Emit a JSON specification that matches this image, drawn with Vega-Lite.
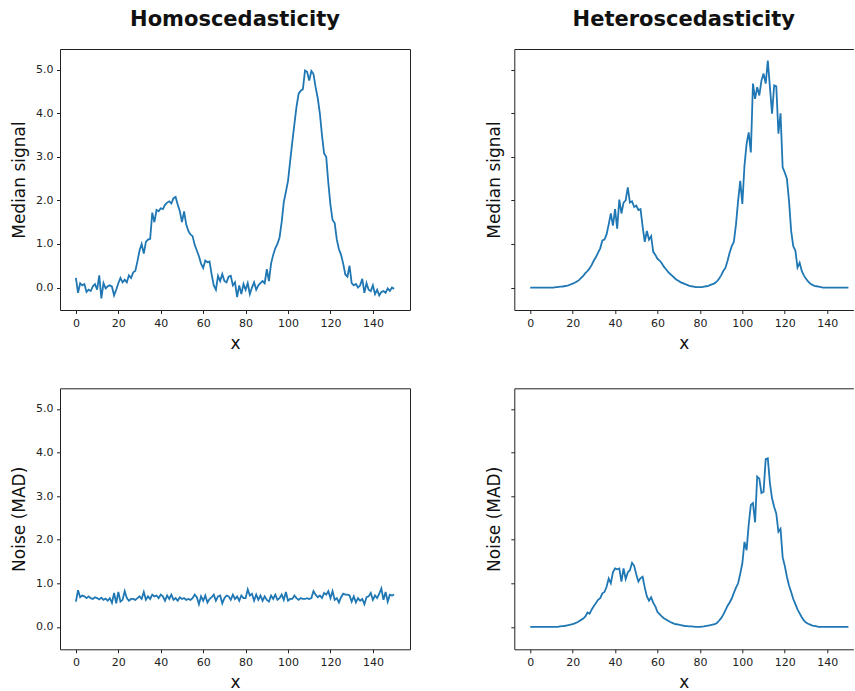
{
  "$schema": "https://vega.github.io/schema/vega-lite/v6.json",
  "autosize": {"type": "pad"},
  "padding": {"left": 10, "top": 9, "right": 0, "bottom": 0},
  "background": "white",
  "config": {
    "font": "DejaVu Sans",
    "view": {"stroke": null},
    "axis": {
      "grid": false,
      "domainColor": "#222",
      "domainWidth": 1,
      "tickColor": "#222",
      "tickWidth": 1,
      "tickSize": 3.5,
      "labelColor": "#222",
      "labelFont": "DejaVu Sans",
      "labelFontSize": 11,
      "labelPadding": 3.5,
      "titleFont": "DejaVu Sans",
      "titleFontSize": 17,
      "titleFontWeight": "normal",
      "titleColor": "#111",
      "titlePadding": 7
    },
    "title": {"font": "DejaVu Sans", "fontSize": 21, "fontWeight": "bold", "color": "#111", "anchor": "middle", "frame": "group", "baseline": "alphabetic", "offset": 19}
  },
  "data": {"values": [
    {"x":0,"homo_sig":0.22,"hetero_sig":0,"homo_mad":0.58,"hetero_mad":0},
    {"x":1,"homo_sig":-0.12,"hetero_sig":0,"homo_mad":0.84,"hetero_mad":0},
    {"x":2,"homo_sig":0.10,"hetero_sig":0,"homo_mad":0.68,"hetero_mad":0},
    {"x":3,"homo_sig":0.05,"hetero_sig":0,"homo_mad":0.72,"hetero_mad":0},
    {"x":4,"homo_sig":0.08,"hetero_sig":0,"homo_mad":0.70,"hetero_mad":0},
    {"x":5,"homo_sig":-0.10,"hetero_sig":0,"homo_mad":0.66,"hetero_mad":0},
    {"x":6,"homo_sig":-0.05,"hetero_sig":0,"homo_mad":0.70,"hetero_mad":0},
    {"x":7,"homo_sig":-0.08,"hetero_sig":0,"homo_mad":0.66,"hetero_mad":0},
    {"x":8,"homo_sig":0.03,"hetero_sig":0,"homo_mad":0.64,"hetero_mad":0},
    {"x":9,"homo_sig":0.08,"hetero_sig":0,"homo_mad":0.68,"hetero_mad":0},
    {"x":10,"homo_sig":-0.05,"hetero_sig":0,"homo_mad":0.66,"hetero_mad":0},
    {"x":11,"homo_sig":0.28,"hetero_sig":0,"homo_mad":0.63,"hetero_mad":0},
    {"x":12,"homo_sig":-0.25,"hetero_sig":0.01,"homo_mad":0.67,"hetero_mad":0},
    {"x":13,"homo_sig":0.10,"hetero_sig":0.01,"homo_mad":0.62,"hetero_mad":0},
    {"x":14,"homo_sig":-0.02,"hetero_sig":0.02,"homo_mad":0.65,"hetero_mad":0.01},
    {"x":15,"homo_sig":0.03,"hetero_sig":0.02,"homo_mad":0.60,"hetero_mad":0.015},
    {"x":16,"homo_sig":0.05,"hetero_sig":0.03,"homo_mad":0.66,"hetero_mad":0.02},
    {"x":17,"homo_sig":0.02,"hetero_sig":0.04,"homo_mad":0.55,"hetero_mad":0.03},
    {"x":18,"homo_sig":-0.18,"hetero_sig":0.05,"homo_mad":0.78,"hetero_mad":0.04},
    {"x":19,"homo_sig":-0.05,"hetero_sig":0.07,"homo_mad":0.54,"hetero_mad":0.05},
    {"x":20,"homo_sig":0.10,"hetero_sig":0.09,"homo_mad":0.80,"hetero_mad":0.06},
    {"x":21,"homo_sig":0.22,"hetero_sig":0.11,"homo_mad":0.58,"hetero_mad":0.08},
    {"x":22,"homo_sig":0.12,"hetero_sig":0.14,"homo_mad":0.62,"hetero_mad":0.10},
    {"x":23,"homo_sig":0.18,"hetero_sig":0.17,"homo_mad":0.82,"hetero_mad":0.13},
    {"x":24,"homo_sig":0.12,"hetero_sig":0.22,"homo_mad":0.66,"hetero_mad":0.16},
    {"x":25,"homo_sig":0.28,"hetero_sig":0.27,"homo_mad":0.60,"hetero_mad":0.19},
    {"x":26,"homo_sig":0.22,"hetero_sig":0.33,"homo_mad":0.64,"hetero_mad":0.24},
    {"x":27,"homo_sig":0.35,"hetero_sig":0.38,"homo_mad":0.64,"hetero_mad":0.33},
    {"x":28,"homo_sig":0.38,"hetero_sig":0.44,"homo_mad":0.62,"hetero_mad":0.30},
    {"x":29,"homo_sig":0.60,"hetero_sig":0.52,"homo_mad":0.66,"hetero_mad":0.40},
    {"x":30,"homo_sig":0.85,"hetero_sig":0.62,"homo_mad":0.70,"hetero_mad":0.48},
    {"x":31,"homo_sig":1.00,"hetero_sig":0.70,"homo_mad":0.64,"hetero_mad":0.55},
    {"x":32,"homo_sig":0.78,"hetero_sig":0.80,"homo_mad":0.80,"hetero_mad":0.62},
    {"x":33,"homo_sig":1.05,"hetero_sig":0.90,"homo_mad":0.62,"hetero_mad":0.66},
    {"x":34,"homo_sig":1.10,"hetero_sig":1.08,"homo_mad":0.70,"hetero_mad":0.77},
    {"x":35,"homo_sig":1.12,"hetero_sig":1.10,"homo_mad":0.64,"hetero_mad":0.80},
    {"x":36,"homo_sig":1.72,"hetero_sig":1.22,"homo_mad":0.74,"hetero_mad":0.92},
    {"x":37,"homo_sig":1.50,"hetero_sig":1.45,"homo_mad":0.70,"hetero_mad":1.11},
    {"x":38,"homo_sig":1.78,"hetero_sig":1.70,"homo_mad":0.72,"hetero_mad":1.00},
    {"x":39,"homo_sig":1.75,"hetero_sig":1.42,"homo_mad":0.66,"hetero_mad":1.25},
    {"x":40,"homo_sig":1.82,"hetero_sig":1.80,"homo_mad":0.74,"hetero_mad":1.34},
    {"x":41,"homo_sig":1.80,"hetero_sig":1.35,"homo_mad":0.70,"hetero_mad":1.32},
    {"x":42,"homo_sig":1.90,"hetero_sig":2.02,"homo_mad":0.60,"hetero_mad":1.34},
    {"x":43,"homo_sig":1.95,"hetero_sig":1.70,"homo_mad":0.72,"hetero_mad":1.04},
    {"x":44,"homo_sig":1.98,"hetero_sig":1.95,"homo_mad":0.64,"hetero_mad":1.34},
    {"x":45,"homo_sig":1.93,"hetero_sig":2.00,"homo_mad":0.74,"hetero_mad":1.10},
    {"x":46,"homo_sig":2.05,"hetero_sig":2.30,"homo_mad":0.62,"hetero_mad":1.25},
    {"x":47,"homo_sig":2.08,"hetero_sig":1.95,"homo_mad":0.66,"hetero_mad":1.30},
    {"x":48,"homo_sig":1.90,"hetero_sig":1.98,"homo_mad":0.60,"hetero_mad":1.47},
    {"x":49,"homo_sig":1.75,"hetero_sig":1.85,"homo_mad":0.68,"hetero_mad":1.40},
    {"x":50,"homo_sig":1.50,"hetero_sig":1.88,"homo_mad":0.64,"hetero_mad":1.20},
    {"x":51,"homo_sig":1.75,"hetero_sig":1.78,"homo_mad":0.66,"hetero_mad":1.04},
    {"x":52,"homo_sig":1.45,"hetero_sig":1.80,"homo_mad":0.62,"hetero_mad":1.12},
    {"x":53,"homo_sig":1.30,"hetero_sig":1.40,"homo_mad":0.64,"hetero_mad":1.15},
    {"x":54,"homo_sig":1.22,"hetero_sig":1.05,"homo_mad":0.62,"hetero_mad":0.90},
    {"x":55,"homo_sig":1.18,"hetero_sig":1.30,"homo_mad":0.66,"hetero_mad":0.70},
    {"x":56,"homo_sig":0.98,"hetero_sig":1.10,"homo_mad":0.74,"hetero_mad":0.60},
    {"x":57,"homo_sig":0.85,"hetero_sig":1.18,"homo_mad":0.68,"hetero_mad":0.68},
    {"x":58,"homo_sig":0.72,"hetero_sig":0.82,"homo_mad":0.52,"hetero_mad":0.55},
    {"x":59,"homo_sig":0.55,"hetero_sig":0.75,"homo_mad":0.70,"hetero_mad":0.47},
    {"x":60,"homo_sig":0.45,"hetero_sig":0.66,"homo_mad":0.60,"hetero_mad":0.34},
    {"x":61,"homo_sig":0.62,"hetero_sig":0.62,"homo_mad":0.72,"hetero_mad":0.29},
    {"x":62,"homo_sig":0.58,"hetero_sig":0.56,"homo_mad":0.56,"hetero_mad":0.24},
    {"x":63,"homo_sig":0.60,"hetero_sig":0.48,"homo_mad":0.64,"hetero_mad":0.20},
    {"x":64,"homo_sig":0.30,"hetero_sig":0.42,"homo_mad":0.68,"hetero_mad":0.17},
    {"x":65,"homo_sig":0.05,"hetero_sig":0.36,"homo_mad":0.74,"hetero_mad":0.14},
    {"x":66,"homo_sig":-0.05,"hetero_sig":0.31,"homo_mad":0.60,"hetero_mad":0.11},
    {"x":67,"homo_sig":0.27,"hetero_sig":0.27,"homo_mad":0.70,"hetero_mad":0.09},
    {"x":68,"homo_sig":0.15,"hetero_sig":0.22,"homo_mad":0.72,"hetero_mad":0.07},
    {"x":69,"homo_sig":0.31,"hetero_sig":0.18,"homo_mad":0.54,"hetero_mad":0.06},
    {"x":70,"homo_sig":0.15,"hetero_sig":0.15,"homo_mad":0.66,"hetero_mad":0.05},
    {"x":71,"homo_sig":0.12,"hetero_sig":0.12,"homo_mad":0.72,"hetero_mad":0.04},
    {"x":72,"homo_sig":0.25,"hetero_sig":0.10,"homo_mad":0.70,"hetero_mad":0.03},
    {"x":73,"homo_sig":0.27,"hetero_sig":0.08,"homo_mad":0.62,"hetero_mad":0.02},
    {"x":74,"homo_sig":0.05,"hetero_sig":0.06,"homo_mad":0.74,"hetero_mad":0.015},
    {"x":75,"homo_sig":0.12,"hetero_sig":0.04,"homo_mad":0.64,"hetero_mad":0.01},
    {"x":76,"homo_sig":-0.22,"hetero_sig":0.03,"homo_mad":0.70,"hetero_mad":0.01},
    {"x":77,"homo_sig":0.05,"hetero_sig":0.02,"homo_mad":0.60,"hetero_mad":0.005},
    {"x":78,"homo_sig":-0.15,"hetero_sig":0.01,"homo_mad":0.72,"hetero_mad":0},
    {"x":79,"homo_sig":0.08,"hetero_sig":0.01,"homo_mad":0.66,"hetero_mad":0},
    {"x":80,"homo_sig":-0.05,"hetero_sig":0.01,"homo_mad":0.66,"hetero_mad":0},
    {"x":81,"homo_sig":0.10,"hetero_sig":0.01,"homo_mad":0.86,"hetero_mad":0.005},
    {"x":82,"homo_sig":-0.15,"hetero_sig":0.02,"homo_mad":0.72,"hetero_mad":0.01},
    {"x":83,"homo_sig":0.00,"hetero_sig":0.03,"homo_mad":0.76,"hetero_mad":0.02},
    {"x":84,"homo_sig":0.12,"hetero_sig":0.04,"homo_mad":0.60,"hetero_mad":0.03},
    {"x":85,"homo_sig":-0.05,"hetero_sig":0.06,"homo_mad":0.74,"hetero_mad":0.04},
    {"x":86,"homo_sig":0.05,"hetero_sig":0.08,"homo_mad":0.62,"hetero_mad":0.05},
    {"x":87,"homo_sig":0.10,"hetero_sig":0.10,"homo_mad":0.72,"hetero_mad":0.06},
    {"x":88,"homo_sig":0.15,"hetero_sig":0.14,"homo_mad":0.60,"hetero_mad":0.09},
    {"x":89,"homo_sig":0.10,"hetero_sig":0.20,"homo_mad":0.70,"hetero_mad":0.14},
    {"x":90,"homo_sig":0.42,"hetero_sig":0.28,"homo_mad":0.62,"hetero_mad":0.20},
    {"x":91,"homo_sig":0.15,"hetero_sig":0.38,"homo_mad":0.58,"hetero_mad":0.28},
    {"x":92,"homo_sig":0.55,"hetero_sig":0.45,"homo_mad":0.72,"hetero_mad":0.38},
    {"x":93,"homo_sig":0.75,"hetero_sig":0.61,"homo_mad":0.64,"hetero_mad":0.48},
    {"x":94,"homo_sig":0.90,"hetero_sig":0.80,"homo_mad":0.74,"hetero_mad":0.56},
    {"x":95,"homo_sig":1.00,"hetero_sig":0.95,"homo_mad":0.62,"hetero_mad":0.65},
    {"x":96,"homo_sig":1.15,"hetero_sig":1.05,"homo_mad":0.66,"hetero_mad":0.78},
    {"x":97,"homo_sig":1.50,"hetero_sig":1.45,"homo_mad":0.74,"hetero_mad":0.90},
    {"x":98,"homo_sig":1.96,"hetero_sig":1.99,"homo_mad":0.62,"hetero_mad":1.00},
    {"x":99,"homo_sig":2.20,"hetero_sig":2.45,"homo_mad":0.80,"hetero_mad":1.22},
    {"x":100,"homo_sig":2.45,"hetero_sig":1.92,"homo_mad":0.60,"hetero_mad":1.46},
    {"x":101,"homo_sig":2.90,"hetero_sig":2.80,"homo_mad":0.64,"hetero_mad":1.95},
    {"x":102,"homo_sig":3.34,"hetero_sig":3.30,"homo_mad":0.64,"hetero_mad":1.76},
    {"x":103,"homo_sig":3.75,"hetero_sig":3.56,"homo_mad":0.72,"hetero_mad":2.35},
    {"x":104,"homo_sig":4.15,"hetero_sig":3.10,"homo_mad":0.66,"hetero_mad":2.80},
    {"x":105,"homo_sig":4.45,"hetero_sig":4.68,"homo_mad":0.62,"hetero_mad":2.84},
    {"x":106,"homo_sig":4.52,"hetero_sig":4.33,"homo_mad":0.66,"hetero_mad":2.40},
    {"x":107,"homo_sig":4.55,"hetero_sig":4.60,"homo_mad":0.64,"hetero_mad":3.45},
    {"x":108,"homo_sig":4.98,"hetero_sig":4.41,"homo_mad":0.64,"hetero_mad":3.40},
    {"x":109,"homo_sig":4.95,"hetero_sig":4.75,"homo_mad":0.66,"hetero_mad":3.07},
    {"x":110,"homo_sig":4.75,"hetero_sig":4.91,"homo_mad":0.64,"hetero_mad":3.10},
    {"x":111,"homo_sig":4.97,"hetero_sig":4.68,"homo_mad":0.66,"hetero_mad":3.85},
    {"x":112,"homo_sig":4.90,"hetero_sig":5.21,"homo_mad":0.82,"hetero_mad":3.87},
    {"x":113,"homo_sig":4.60,"hetero_sig":4.60,"homo_mad":0.74,"hetero_mad":3.30},
    {"x":114,"homo_sig":4.35,"hetero_sig":3.99,"homo_mad":0.68,"hetero_mad":2.95},
    {"x":115,"homo_sig":4.00,"hetero_sig":4.64,"homo_mad":0.72,"hetero_mad":2.75},
    {"x":116,"homo_sig":3.50,"hetero_sig":4.62,"homo_mad":0.66,"hetero_mad":2.60},
    {"x":117,"homo_sig":3.08,"hetero_sig":3.53,"homo_mad":0.78,"hetero_mad":2.18},
    {"x":118,"homo_sig":3.00,"hetero_sig":4.00,"homo_mad":0.74,"hetero_mad":2.25},
    {"x":119,"homo_sig":2.40,"hetero_sig":2.76,"homo_mad":0.82,"hetero_mad":1.60},
    {"x":120,"homo_sig":1.90,"hetero_sig":2.64,"homo_mad":0.66,"hetero_mad":1.40},
    {"x":121,"homo_sig":1.55,"hetero_sig":2.50,"homo_mad":0.82,"hetero_mad":1.15},
    {"x":122,"homo_sig":1.48,"hetero_sig":1.99,"homo_mad":0.62,"hetero_mad":0.95},
    {"x":123,"homo_sig":1.10,"hetero_sig":1.30,"homo_mad":0.66,"hetero_mad":0.80},
    {"x":124,"homo_sig":0.88,"hetero_sig":0.95,"homo_mad":0.56,"hetero_mad":0.64},
    {"x":125,"homo_sig":0.75,"hetero_sig":0.85,"homo_mad":0.68,"hetero_mad":0.52},
    {"x":126,"homo_sig":0.55,"hetero_sig":0.46,"homo_mad":0.76,"hetero_mad":0.40},
    {"x":127,"homo_sig":0.30,"hetero_sig":0.57,"homo_mad":0.74,"hetero_mad":0.31},
    {"x":128,"homo_sig":0.25,"hetero_sig":0.38,"homo_mad":0.74,"hetero_mad":0.22},
    {"x":129,"homo_sig":0.50,"hetero_sig":0.28,"homo_mad":0.72,"hetero_mad":0.15},
    {"x":130,"homo_sig":0.10,"hetero_sig":0.20,"homo_mad":0.58,"hetero_mad":0.10},
    {"x":131,"homo_sig":0.05,"hetero_sig":0.14,"homo_mad":0.70,"hetero_mad":0.07},
    {"x":132,"homo_sig":0.08,"hetero_sig":0.09,"homo_mad":0.56,"hetero_mad":0.05},
    {"x":133,"homo_sig":0.00,"hetero_sig":0.06,"homo_mad":0.66,"hetero_mad":0.03},
    {"x":134,"homo_sig":0.05,"hetero_sig":0.04,"homo_mad":0.60,"hetero_mad":0.02},
    {"x":135,"homo_sig":0.20,"hetero_sig":0.03,"homo_mad":0.64,"hetero_mad":0.01},
    {"x":136,"homo_sig":-0.12,"hetero_sig":0.02,"homo_mad":0.52,"hetero_mad":0},
    {"x":137,"homo_sig":0.10,"hetero_sig":0.01,"homo_mad":0.68,"hetero_mad":0},
    {"x":138,"homo_sig":-0.05,"hetero_sig":0,"homo_mad":0.70,"hetero_mad":0},
    {"x":139,"homo_sig":-0.08,"hetero_sig":0,"homo_mad":0.78,"hetero_mad":0},
    {"x":140,"homo_sig":0.05,"hetero_sig":0,"homo_mad":0.62,"hetero_mad":0},
    {"x":141,"homo_sig":-0.15,"hetero_sig":0,"homo_mad":0.72,"hetero_mad":0},
    {"x":142,"homo_sig":-0.05,"hetero_sig":0,"homo_mad":0.66,"hetero_mad":0},
    {"x":143,"homo_sig":-0.18,"hetero_sig":0,"homo_mad":0.76,"hetero_mad":0},
    {"x":144,"homo_sig":-0.10,"hetero_sig":0,"homo_mad":0.88,"hetero_mad":0},
    {"x":145,"homo_sig":-0.08,"hetero_sig":0,"homo_mad":0.62,"hetero_mad":0},
    {"x":146,"homo_sig":-0.12,"hetero_sig":0,"homo_mad":0.80,"hetero_mad":0},
    {"x":147,"homo_sig":-0.02,"hetero_sig":0,"homo_mad":0.58,"hetero_mad":0},
    {"x":148,"homo_sig":-0.08,"hetero_sig":0,"homo_mad":0.74,"hetero_mad":0},
    {"x":149,"homo_sig":0.00,"hetero_sig":0,"homo_mad":0.72,"hetero_mad":0},
    {"x":150,"homo_sig":-0.03,"hetero_sig":0,"homo_mad":0.74,"hetero_mad":0}
  ]},
  "columns": 2,
  "align": "each",
  "bounds": "flush",
  "spacing": {"column": 104.3, "row": 78.3},
  "concat": [
    {
      "width": 350, "height": 261,
      "title": {"text": "Homoscedasticity"},
      "layer": [
        {"mark": {"type": "line", "color": "#1f77b4", "strokeWidth": 1.8},
         "encoding": {
           "x": {"field": "x", "type": "quantitative", "scale": {"domain": [-7.5, 157.5], "nice": false, "zero": false}, "axis": {"orient": "bottom", "values": [0, 20, 40, 60, 80, 100, 120, 140], "title": "x"}},
           "y": {"field": "homo_sig", "type": "quantitative", "scale": {"domain": [-0.515, 5.475], "nice": false, "zero": false}, "axis": {"orient": "left", "values": [0, 1, 2, 3, 4, 5], "format": ".1f", "title": "Median signal"}}
         }},
        {"mark": {"type": "line", "opacity": 0},
         "encoding": {
           "x": {"field": "x", "type": "quantitative", "axis": {"orient": "top", "labels": false, "ticks": false, "title": null}},
           "y": {"field": "homo_sig", "type": "quantitative", "axis": {"orient": "right", "labels": false, "ticks": false, "title": null}}
         }}
      ],
      "resolve": {"axis": {"x": "independent", "y": "independent"}}
    },
    {
      "width": 339, "height": 261,
      "title": {"text": "Heteroscedasticity"},
      "layer": [
        {"mark": {"type": "line", "color": "#1f77b4", "strokeWidth": 1.8},
         "encoding": {
           "x": {"field": "x", "type": "quantitative", "scale": {"domain": [-7.5, 152.3], "nice": false, "zero": false}, "axis": {"orient": "bottom", "values": [0, 20, 40, 60, 80, 100, 120, 140], "title": "x"}},
           "y": {"field": "hetero_sig", "type": "quantitative", "scale": {"domain": [-0.515, 5.475], "nice": false, "zero": false}, "axis": {"orient": "left", "values": [0, 1, 2, 3, 4, 5], "labels": false, "title": "Median signal"}}
         }},
        {"mark": {"type": "line", "opacity": 0},
         "encoding": {
           "x": {"field": "x", "type": "quantitative", "axis": {"orient": "top", "labels": false, "ticks": false, "title": null}},
           "y": {"field": "hetero_sig", "type": "quantitative", "axis": null}
         }}
      ],
      "resolve": {"axis": {"x": "independent", "y": "independent"}}
    },
    {
      "width": 350, "height": 261,
      "layer": [
        {"mark": {"type": "line", "color": "#1f77b4", "strokeWidth": 1.8},
         "encoding": {
           "x": {"field": "x", "type": "quantitative", "scale": {"domain": [-7.5, 157.5], "nice": false, "zero": false}, "axis": {"orient": "bottom", "values": [0, 20, 40, 60, 80, 100, 120, 140], "title": "x"}},
           "y": {"field": "homo_mad", "type": "quantitative", "scale": {"domain": [-0.515, 5.475], "nice": false, "zero": false}, "axis": {"orient": "left", "values": [0, 1, 2, 3, 4, 5], "format": ".1f", "title": "Noise (MAD)"}}
         }},
        {"mark": {"type": "line", "opacity": 0},
         "encoding": {
           "x": {"field": "x", "type": "quantitative", "axis": {"orient": "top", "labels": false, "ticks": false, "title": null}},
           "y": {"field": "homo_mad", "type": "quantitative", "axis": {"orient": "right", "labels": false, "ticks": false, "title": null}}
         }}
      ],
      "resolve": {"axis": {"x": "independent", "y": "independent"}}
    },
    {
      "width": 339, "height": 261,
      "layer": [
        {"mark": {"type": "line", "color": "#1f77b4", "strokeWidth": 1.8},
         "encoding": {
           "x": {"field": "x", "type": "quantitative", "scale": {"domain": [-7.5, 152.3], "nice": false, "zero": false}, "axis": {"orient": "bottom", "values": [0, 20, 40, 60, 80, 100, 120, 140], "title": "x"}},
           "y": {"field": "hetero_mad", "type": "quantitative", "scale": {"domain": [-0.515, 5.475], "nice": false, "zero": false}, "axis": {"orient": "left", "values": [0, 1, 2, 3, 4, 5], "labels": false, "title": "Noise (MAD)"}}
         }},
        {"mark": {"type": "line", "opacity": 0},
         "encoding": {
           "x": {"field": "x", "type": "quantitative", "axis": {"orient": "top", "labels": false, "ticks": false, "title": null}},
           "y": {"field": "hetero_mad", "type": "quantitative", "axis": null}
         }}
      ],
      "resolve": {"axis": {"x": "independent", "y": "independent"}}
    }
  ]
}
